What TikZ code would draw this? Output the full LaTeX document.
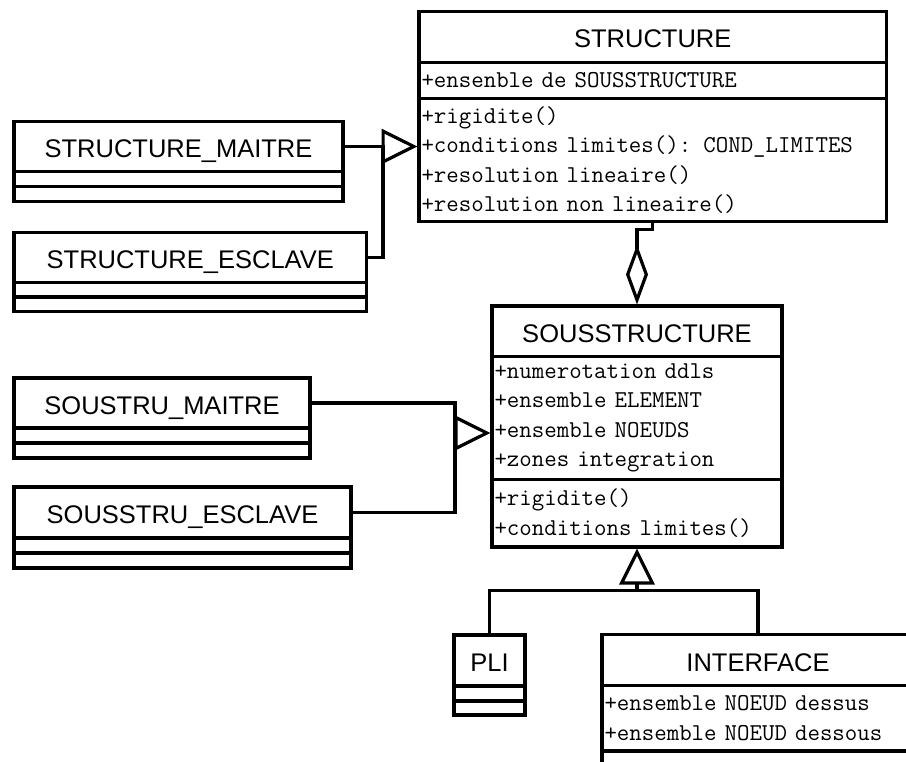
\documentclass[tikz,border=0pt]{standalone}
\usepackage{fontspec}
\usetikzlibrary{arrows.meta,positioning}
\newfontfamily\umlsans{Liberation Sans}
\tikzset{
  umlbox/.style={draw, line width=3.2pt, outer sep=0pt, inner sep=0pt},
  namebox/.style={umlbox, anchor=north west, text height=22pt, text depth=0pt,
                  font=\umlsans\fontsize{25.5pt}{30pt}\selectfont},
  slotbox/.style={umlbox, inner xsep=2.5pt, align=left,
                  font=\ttfamily\fontsize{24.2pt}{29.3pt}\selectfont},
  link/.style={line width=3.2pt},
  gen/.style={link, -{Triangle[open, length=36pt, width=35pt]}, shorten >=1.5pt},
  agg/.style={link, -{Diamond[open, length=60pt, width=22pt]}, shorten >=1.5pt}}

\begin{document}
\begin{tikzpicture}[x=1pt, y=-1pt]
  \useasboundingbox (0,0) rectangle (906,762);
  \clip (0,0) rectangle (906,762);

  % STRUCTURE
  \node[namebox, minimum width=467.5pt, minimum height=51pt] (sth) at (419,11.5) {STRUCTURE};
  \node[slotbox, text width=462.5pt, minimum height=36pt, below=0pt of sth] (sta)
    {+ensenble de SOUSSTRUCTURE};
  \node[slotbox, text width=462.5pt, minimum height=123pt, below=0pt of sta] (stm)
    {+rigidite()\\+conditions limites(): COND\_LIMITES\\+resolution lineaire()\\+resolution non lineaire()};

  % STRUCTURE_MAITRE / STRUCTURE_ESCLAVE
  \node[namebox, minimum width=329pt, minimum height=50pt] (smh) at (14,121.5) {STRUCTURE\_MAITRE};
  \node[slotbox, text width=324pt, minimum height=15pt, below=0pt of smh] (sma) {};
  \node[slotbox, text width=324pt, minimum height=15pt, below=0pt of sma] (smm) {};
  \node[namebox, minimum width=352.5pt, minimum height=50pt] (seh) at (14,232.5) {STRUCTURE\_ESCLAVE};
  \node[slotbox, text width=347.5pt, minimum height=14.5pt, below=0pt of seh] (sea) {};
  \node[slotbox, text width=347.5pt, minimum height=14.5pt, below=0pt of sea] (sem) {};

  % SOUSSTRUCTURE
  \node[namebox, minimum width=290pt, minimum height=50.5pt] (ssh) at (492,306) {SOUSSTRUCTURE};
  \node[slotbox, text width=285pt, minimum height=123pt, below=0pt of ssh] (ssa)
    {+numerotation ddls\\+ensemble ELEMENT\\+ensemble NOEUDS\\+zones integration};
  \node[slotbox, text width=285pt, minimum height=67.5pt, below=0pt of ssa] (ssm)
    {+rigidite()\\+conditions limites()};

  % SOUSTRU_MAITRE / SOUSSTRU_ESCLAVE
  \node[namebox, minimum width=296pt, minimum height=50pt] (umh) at (14,378) {SOUSTRU\_MAITRE};
  \node[slotbox, text width=291pt, minimum height=15pt, below=0pt of umh] (uma) {};
  \node[slotbox, text width=291pt, minimum height=15pt, below=0pt of uma] (umm) {};
  \node[namebox, minimum width=337pt, minimum height=51pt] (ueh) at (14,487) {SOUSSTRU\_ESCLAVE};
  \node[slotbox, text width=332pt, minimum height=15pt, below=0pt of ueh] (uea) {};
  \node[slotbox, text width=332pt, minimum height=15pt, below=0pt of uea] (uem) {};

  % PLI / INTERFACE
  \node[namebox, minimum width=71pt, minimum height=51pt] (plh) at (454,635) {PLI};
  \node[slotbox, text width=66pt, minimum height=15pt, below=0pt of plh] (pla) {};
  \node[slotbox, text width=66pt, minimum height=14pt, below=0pt of pla] (plm) {};
  \node[namebox, minimum width=312pt, minimum height=51pt] (ifh) at (602,634.5) {INTERFACE};
  \node[slotbox, text width=307pt, minimum height=65.5pt, below=0pt of ifh] (ifa)
    {+ensemble NOEUD dessus\\+ensemble NOEUD dessous};
  \node[slotbox, text width=307pt, minimum height=30pt, below=0pt of ifa] (ifm) {};

  % connectors
  \coordinate (g1) at (383,146.5);
  \coordinate (g2) at (455,433);
  \coordinate (g3) at (637,590.5);
  \draw[link] (smh.east) -- (g1) |- (seh.east);
  \draw[gen] (g1) -- (g1 -| stm.west);
  \draw[agg] (stm.south) -- ++(0,8) -| (ssh.north);
  \draw[link] (umh.east) -| (g2) |- (ueh.east);
  \draw[gen] (g2) -- (g2 -| ssa.west);
  \draw[link] (plh.north) |- (g3) -| (ifh.north);
  \draw[gen] (g3) -- (ssm.south);
\end{tikzpicture}
\end{document}
